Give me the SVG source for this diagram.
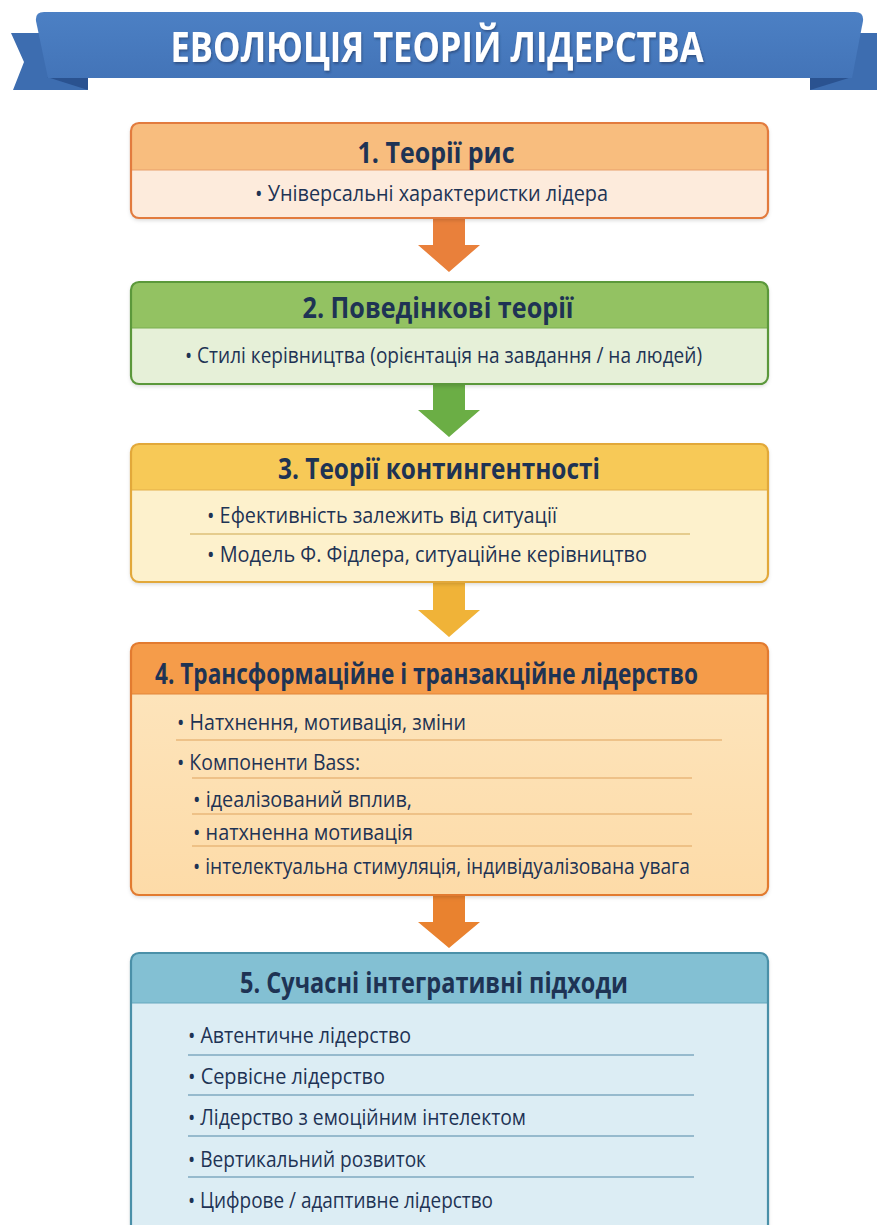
<svg xmlns="http://www.w3.org/2000/svg" width="877" height="1225" viewBox="0 0 877 1225">
  <defs>
    <filter id="shadow" x="-5%" y="-5%" width="110%" height="115%">
      <feDropShadow dx="0" dy="2" stdDeviation="2" flood-color="#000" flood-opacity="0.18"/>
    </filter>
    <filter id="textShadow" x="-5%" y="-20%" width="110%" height="150%">
      <feDropShadow dx="1" dy="2" stdDeviation="1.2" flood-color="#1c3560" flood-opacity="0.55"/>
    </filter>
    <linearGradient id="bannerGrad" x1="0" y1="0" x2="0" y2="1">
      <stop offset="0" stop-color="#4C80C4"/>
      <stop offset="1" stop-color="#4374B8"/>
    </linearGradient>
    <linearGradient id="body4" x1="0" y1="0" x2="0" y2="1">
      <stop offset="0" stop-color="#FDE6BF"/>
      <stop offset="1" stop-color="#FDDBA8"/>
    </linearGradient>
  </defs>
  <style>
    .title { font-family: "Open Sans", "Liberation Sans", sans-serif; font-weight: 700; font-size: 29px; fill: #1E3354; }
    .item { font-family: "Open Sans", "Liberation Sans", sans-serif; font-size: 22px; fill: #1E3354; }
    .banner-text { font-family: "Open Sans", "Liberation Sans", sans-serif; font-weight: 700; font-size: 41px; fill: #ffffff; }
    .sep { stroke-width: 1.3; fill: none; }
  </style>

  <rect width="877" height="1225" fill="#ffffff"/>

  <!-- Title ribbon -->
  <g id="banner">
    <path d="M11,33 L52,33 L88,90 L13,90 L24,62 Z" fill="#3D6DB0"/>
    <path d="M866,33 L825,33 L810,90 L877,90 L877,33 Z" fill="#3D6DB0"/>
    <path d="M47,77 L88,77 L88,90 Z" fill="#2A5290"/>
    <path d="M852,77 L810,77 L810,90 Z" fill="#2A5290"/>
    <path d="M44,12 L855,12 Q864,12 863,21 L852,78 L48,78 L36,21 Q35,12 44,12 Z" fill="url(#bannerGrad)"/>
    <text class="banner-text" x="437" y="62" text-anchor="middle" textLength="533" lengthAdjust="spacingAndGlyphs" filter="url(#textShadow)">ЕВОЛЮЦІЯ ТЕОРІЙ ЛІДЕРСТВА</text>
  </g>

  <!-- Flow arrows -->
  <g id="connectors">
    <path d="M433,219 L465,219 L465,245 L480,245 L449,272 L418,245 L433,245 Z" fill="#E9803B"/>
    <path d="M433,384 L465,384 L465,410 L480,410 L449,437 L418,410 L433,410 Z" fill="#6BAE45"/>
    <path d="M433,582 L465,582 L465,610 L480,610 L449,637 L418,610 L433,610 Z" fill="#F0B338"/>
    <path d="M433,895 L465,895 L465,922 L480,922 L449,948 L418,922 L433,922 Z" fill="#E9822F"/>
  </g>

  <!-- 1. Trait theories -->
  <g id="node-1">
    <rect x="131" y="123" width="637" height="95" rx="8" fill="#FDEBDC" filter="url(#shadow)"/>
    <path d="M139,123 L760,123 Q768,123 768,131 L768,170 L131,170 L131,131 Q131,123 139,123 Z" fill="#F8BD7E"/>
    <line x1="131" y1="170" x2="768" y2="170" stroke="#E8A06A" stroke-width="1.2"/>
    <rect x="131" y="123" width="637" height="95" rx="8" fill="none" stroke="#E27B3E" stroke-width="2.2"/>
    <text class="title" x="436" y="163" text-anchor="middle" textLength="157" lengthAdjust="spacingAndGlyphs">1. Теорії рис</text>
    <text class="item" x="255" y="201" textLength="353" lengthAdjust="spacingAndGlyphs">• Універсальні характеристки лідера</text>
  </g>

  <!-- 2. Behavioural theories -->
  <g id="node-2">
    <rect x="131" y="282" width="637" height="102" rx="8" fill="#E6F0D8" filter="url(#shadow)"/>
    <path d="M139,282 L760,282 Q768,282 768,290 L768,328 L131,328 L131,290 Q131,282 139,282 Z" fill="#93C262"/>
    <line x1="131" y1="328" x2="768" y2="328" stroke="#7AAE50" stroke-width="1.2"/>
    <rect x="131" y="282" width="637" height="102" rx="8" fill="none" stroke="#5B983B" stroke-width="2.2"/>
    <text class="title" x="438" y="318" text-anchor="middle" textLength="271" lengthAdjust="spacingAndGlyphs">2. Поведінкові теорії</text>
    <text class="item" x="185" y="363" textLength="517" lengthAdjust="spacingAndGlyphs">• Стилі керівництва (орієнтація на завдання / на людей)</text>
  </g>

  <!-- 3. Contingency theories -->
  <g id="node-3">
    <rect x="131" y="444" width="637" height="138" rx="8" fill="#FDF1CC" filter="url(#shadow)"/>
    <path d="M139,444 L760,444 Q768,444 768,452 L768,490 L131,490 L131,452 Q131,444 139,444 Z" fill="#F7C957"/>
    <line x1="131" y1="490" x2="768" y2="490" stroke="#E4B04A" stroke-width="1.2"/>
    <rect x="131" y="444" width="637" height="138" rx="8" fill="none" stroke="#E2A83A" stroke-width="2.2"/>
    <text class="title" x="439" y="479" text-anchor="middle" textLength="322" lengthAdjust="spacingAndGlyphs">3. Теорії контингентності</text>
    <text class="item" x="207" y="523" textLength="350" lengthAdjust="spacingAndGlyphs">• Ефективність залежить від ситуації</text>
    <line class="sep" x1="190" y1="534" x2="690" y2="534" stroke="#DDBF78"/>
    <text class="item" x="207" y="562" textLength="440" lengthAdjust="spacingAndGlyphs">• Модель Ф. Фідлера, ситуаційне керівництво</text>
  </g>

  <!-- 4. Transformational and transactional leadership -->
  <g id="node-4">
    <rect x="131" y="643" width="637" height="252" rx="8" fill="url(#body4)" filter="url(#shadow)"/>
    <path d="M139,643 L760,643 Q768,643 768,651 L768,694 L131,694 L131,651 Q131,643 139,643 Z" fill="#F59C4A"/>
    <line x1="131" y1="694" x2="768" y2="694" stroke="#E2853A" stroke-width="1.2"/>
    <rect x="131" y="643" width="637" height="252" rx="8" fill="none" stroke="#E27B30" stroke-width="2.2"/>
    <text class="title" x="155" y="684" textLength="543" lengthAdjust="spacingAndGlyphs">4. Трансформаційне і транзакційне лідерство</text>
    <text class="item" x="177" y="730" textLength="289" lengthAdjust="spacingAndGlyphs">• Натхнення, мотивація, зміни</text>
    <line class="sep" x1="176" y1="740" x2="722" y2="740" stroke="#E9B77A"/>
    <text class="item" x="177" y="770" textLength="183" lengthAdjust="spacingAndGlyphs">• Компоненти Bass:</text>
    <line class="sep" x1="192" y1="778" x2="692" y2="778" stroke="#E9B77A"/>
    <text class="item" x="193" y="807" textLength="219" lengthAdjust="spacingAndGlyphs">• ідеалізований вплив,</text>
    <line class="sep" x1="192" y1="814" x2="692" y2="814" stroke="#E9B77A"/>
    <text class="item" x="193" y="840" textLength="220" lengthAdjust="spacingAndGlyphs">• натхненна мотивація</text>
    <line class="sep" x1="192" y1="846" x2="692" y2="846" stroke="#E9B77A"/>
    <text class="item" x="193" y="874" textLength="497" lengthAdjust="spacingAndGlyphs">• інтелектуальна стимуляція, індивідуалізована увага</text>
  </g>

  <!-- 5. Contemporary integrative approaches -->
  <g id="node-5">
    <rect x="131" y="953" width="637" height="290" rx="8" fill="#DCEDF4" filter="url(#shadow)"/>
    <path d="M139,953 L760,953 Q768,953 768,961 L768,1003 L131,1003 L131,961 Q131,953 139,953 Z" fill="#83C0D3"/>
    <line x1="131" y1="1003" x2="768" y2="1003" stroke="#66A8BE" stroke-width="1.2"/>
    <rect x="131" y="953" width="637" height="290" rx="8" fill="none" stroke="#4A90A8" stroke-width="2.2"/>
    <text class="title" x="434" y="993" text-anchor="middle" textLength="388" lengthAdjust="spacingAndGlyphs">5. Сучасні інтегративні підходи</text>
    <text class="item" x="188" y="1043" textLength="223" lengthAdjust="spacingAndGlyphs">• Автентичне лідерство</text>
    <line class="sep" x1="188" y1="1055" x2="694" y2="1055" stroke="#7FA9C0"/>
    <text class="item" x="188" y="1084" textLength="197" lengthAdjust="spacingAndGlyphs">• Сервісне лідерство</text>
    <line class="sep" x1="188" y1="1095" x2="694" y2="1095" stroke="#7FA9C0"/>
    <text class="item" x="188" y="1125" textLength="338" lengthAdjust="spacingAndGlyphs">• Лідерство з емоційним інтелектом</text>
    <line class="sep" x1="188" y1="1136" x2="694" y2="1136" stroke="#7FA9C0"/>
    <text class="item" x="188" y="1167" textLength="238" lengthAdjust="spacingAndGlyphs">• Вертикальний розвиток</text>
    <line class="sep" x1="188" y1="1177" x2="694" y2="1177" stroke="#7FA9C0"/>
    <text class="item" x="188" y="1208" textLength="305" lengthAdjust="spacingAndGlyphs">• Цифрове / адаптивне лідерство</text>
  </g>
</svg>
